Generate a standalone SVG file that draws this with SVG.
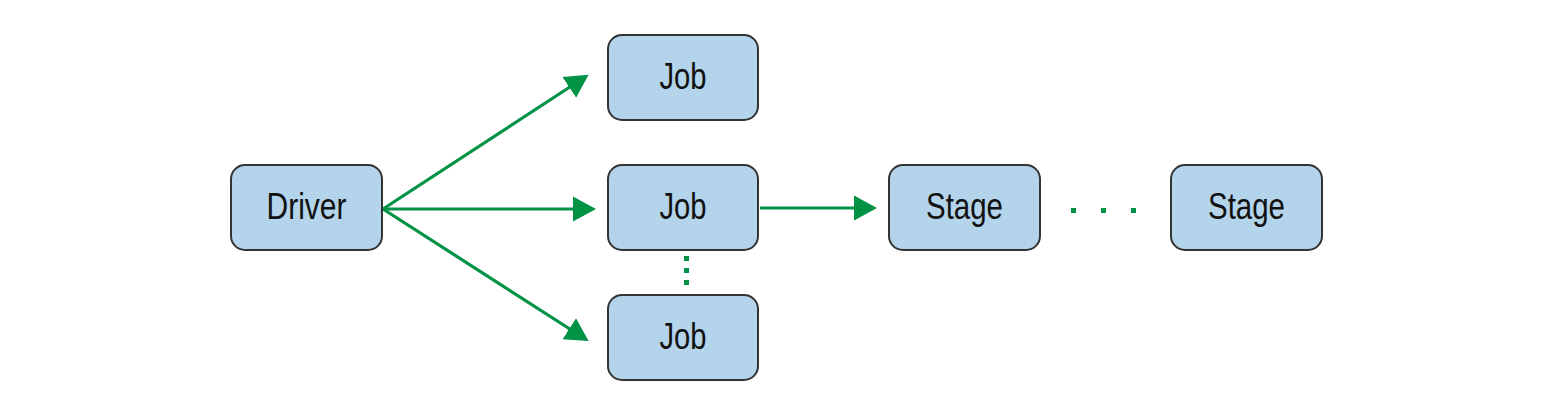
<svg xmlns="http://www.w3.org/2000/svg" width="1552" height="418" viewBox="0 0 1552 418">
<style>
.box{fill:#b3d4ea;stroke:#333333;stroke-width:2}
.lbl{font-family:"Liberation Sans",Arial,sans-serif;font-size:37px;fill:#111;text-anchor:middle}
.conn{stroke:#009245;stroke-width:3.2;fill:none}
.dot{fill:#009245}
</style>
<defs>
<marker id="arr" viewBox="0 0 24 26" refX="8" refY="13" markerWidth="24" markerHeight="26" markerUnits="userSpaceOnUse" orient="auto">
<path d="M0,0.5 L23,13 L0,25.5 z" fill="#009245"/>
</marker>
</defs>
<rect width="1552" height="418" fill="#ffffff"/>
<g id="connectors">
<line class="conn" x1="383" y1="209" x2="576" y2="83" marker-end="url(#arr)"/>
<line class="conn" x1="383" y1="209" x2="581" y2="209" marker-end="url(#arr)"/>
<line class="conn" x1="383" y1="209" x2="576" y2="333" marker-end="url(#arr)"/>
<line class="conn" x1="760" y1="208" x2="862" y2="208" marker-end="url(#arr)"/>
<rect class="dot" x="684" y="256" width="5" height="5"/>
<rect class="dot" x="684" y="268" width="5" height="5"/>
<rect class="dot" x="684" y="280" width="5" height="5"/>
<rect class="dot" x="1071" y="208" width="5" height="5"/>
<rect class="dot" x="1101" y="208" width="5" height="5"/>
<rect class="dot" x="1131" y="208" width="5" height="5"/>
</g>
<g id="driver">
<rect class="box" x="231" y="165" width="151" height="85" rx="14"/>
<text class="lbl" x="306.5" y="219" textLength="80" lengthAdjust="spacingAndGlyphs">Driver</text>
</g>
<g id="job1">
<rect class="box" x="608" y="35" width="150" height="85" rx="14"/>
<text class="lbl" x="683" y="89" textLength="47" lengthAdjust="spacingAndGlyphs">Job</text>
</g>
<g id="job2">
<rect class="box" x="608" y="165" width="150" height="85" rx="14"/>
<text class="lbl" x="683" y="219" textLength="47" lengthAdjust="spacingAndGlyphs">Job</text>
</g>
<g id="job3">
<rect class="box" x="608" y="295" width="150" height="85" rx="14"/>
<text class="lbl" x="683" y="349" textLength="47" lengthAdjust="spacingAndGlyphs">Job</text>
</g>
<g id="stage1">
<rect class="box" x="889" y="165" width="151" height="85" rx="14"/>
<text class="lbl" x="964.5" y="219" textLength="77" lengthAdjust="spacingAndGlyphs">Stage</text>
</g>
<g id="stage2">
<rect class="box" x="1171" y="165" width="151" height="85" rx="14"/>
<text class="lbl" x="1246.5" y="219" textLength="77" lengthAdjust="spacingAndGlyphs">Stage</text>
</g>
</svg>
